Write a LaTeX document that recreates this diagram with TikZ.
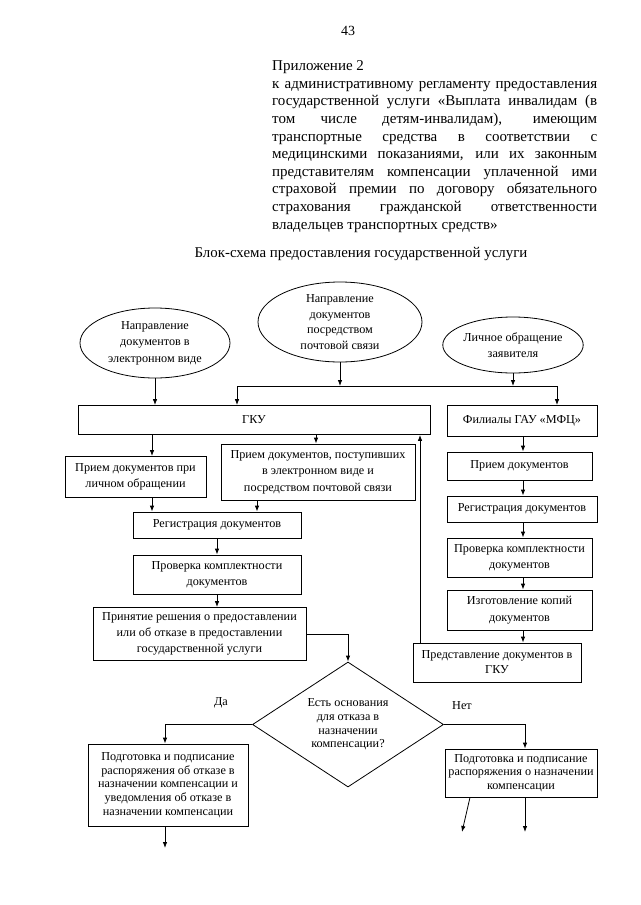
\documentclass[tikz,border=0pt]{standalone}
\usepackage{fontspec}
\setmainfont{Liberation Serif}
\usetikzlibrary{shapes.geometric,arrows.meta}
\tikzset{
  ln/.style={line width=0.8pt},
  arr/.style={ln,-{Latex[length=6pt,width=4.5pt]}},
  dfont/.style={font=\fontsize{12.2}{16.3}\selectfont},
  tfont/.style={font=\fontsize{12.2}{13.6}\selectfont},
  box/.style={draw,ln,rectangle,align=center,inner sep=1pt,dfont},
  ell/.style={draw,ln,ellipse,align=center,inner sep=0pt,dfont},
  dia/.style={draw,ln,diamond,aspect=1.5,align=center,inner sep=0pt,tfont},
  lbl/.style={inner sep=0pt,dfont}
}
\begin{document}
\begin{tikzpicture}[x=1pt,y=-1pt]
\useasboundingbox (0,0) rectangle (640,905);
% header
\node[inner sep=0pt,font=\fontsize{14}{16}\selectfont] (pnum) at (348,31) {43};
\node[anchor=north west,inner sep=0pt,align=left,font=\fontsize{15}{17.6}\selectfont] (hdr) at (272,60.5) {%
Приложение 2\\
\makebox[325pt][s]{к административному регламенту предоставления}\\
\makebox[325pt][s]{государственной услуги «Выплата инвалидам (в}\\
\makebox[325pt][s]{том числе детям-инвалидам), имеющим}\\
\makebox[325pt][s]{транспортные средства в соответствии с}\\
\makebox[325pt][s]{медицинскими показаниями, или их законным}\\
\makebox[325pt][s]{представителям компенсации уплаченной ими}\\
\makebox[325pt][s]{страховой премии по договору обязательного}\\
\makebox[325pt][s]{страхования гражданской ответственности}\\
владельцев транспортных средств»};
\node[inner sep=0pt,font=\fontsize{14.9}{16}\selectfont] (title) at (361,254) {Блок-схема предоставления государственной услуги};
% ellipses
\node[ell,minimum width=150,minimum height=70] (e1) at (155,343) {Направление\\документов в\\электронном виде};
\node[ell,minimum width=164,minimum height=80,font=\fontsize{12.2}{15.7}\selectfont] (e2) at (340,322) {Направление\\документов\\посредством\\почтовой связи};
\node[ell,minimum width=128,minimum height=56] (e3) at (513,345) {Личное обращение\\заявителя};
% left column
\node[box,minimum width=352,minimum height=29] (gku) at (254,420) {ГКУ};
\node[box,minimum width=141,minimum height=41] (pa) at (135.5,477) {Прием документов при\\личном обращении};
\node[box,minimum width=194,minimum height=56] (pb) at (318,472) {Прием документов, поступивших\\в электронном виде и\\посредством почтовой связи};
\node[box,minimum width=168,minimum height=26] (reg) at (217,525) {Регистрация документов};
\node[box,minimum width=168,minimum height=39] (prov) at (217,574.5) {Проверка комплектности\\документов};
\node[box,minimum width=213,minimum height=53] (prin) at (199.5,634) {Принятие решения о предоставлении\\или об отказе в предоставлении\\государственной услуги};
% right column
\node[box,minimum width=150,minimum height=31] (fil) at (522,421) {Филиалы ГАУ «МФЦ»};
\node[box,minimum width=145,minimum height=28] (m1) at (519.5,466) {Прием документов};
\node[box,minimum width=150,minimum height=26] (m2) at (522,509) {Регистрация документов};
\node[box,minimum width=145,minimum height=39] (m3) at (519.5,557.5) {Проверка комплектности\\документов};
\node[box,minimum width=145,minimum height=40] (m4) at (519.5,610) {Изготовление копий\\документов};
\node[box,minimum width=168,minimum height=39,font=\fontsize{12.2}{15}\selectfont] (m5) at (497,662.5) {Представление документов в\\ГКУ};
% decision
\node[dia,minimum width=191,minimum height=125] (q) at (348,724.5) {Есть основания\\для отказа в\\назначении\\компенсации?};
\node[lbl] (da) at (221,703) {Да};
\node[lbl] (net) at (462,706) {Нет};
\node[box,tfont,minimum width=160,minimum height=82] (lb) at (168,785) {Подготовка и подписание\\распоряжения об отказе в\\назначении компенсации и\\уведомления об отказе в\\назначении компенсации};
\node[box,tfont,minimum width=152,minimum height=48] (rb) at (521,773) {Подготовка и подписание\\распоряжения о назначении\\компенсации};
% helper coordinates
\coordinate (jl) at (237,386);
\coordinate (jr) at (557,386);
\coordinate (x152) at (152,0);
\coordinate (x316) at (316,0);
\coordinate (x257) at (257,0);
\coordinate (x523) at (523,0);
\coordinate (x420) at (420,0);
\coordinate (x348) at (348,0);
\coordinate (x165) at (165,0);
\coordinate (x525) at (525,0);
\coordinate (x470) at (470,0);
\coordinate (ld) at (165,848);
\coordinate (rd1) at (462,832);
\coordinate (rd2) at (525,832);
% connectors
\draw[arr] (e1.south) -- (e1.south |- gku.north);
\draw[arr] (e2.south) -- (e2.south |- jl);
\draw[arr] (e3.south) -- (e3.south |- jl);
\draw[ln] (jl) -- (jr);
\draw[arr] (jl) -- (jl |- gku.north);
\draw[arr] (jr) -- (jr |- fil.north);
\draw[arr] (gku.south -| x152) -- (pa.north -| x152);
\draw[arr] (gku.south -| x316) -- (pb.north -| x316);
\draw[arr] (pa.south -| x152) -- (reg.north -| x152);
\draw[arr] (pb.south -| x257) -- (reg.north -| x257);
\draw[arr] (reg.south) -- (prov.north -| reg.south);
\draw[arr] (prov.south) -- (prin.north -| prov.south);
\draw[arr] (prin.east) -- (prin.east -| x348) -- (q.north);
\draw[arr] (fil.south -| x523) -- (m1.north -| x523);
\draw[arr] (m1.south -| x523) -- (m2.north -| x523);
\draw[arr] (m2.south -| x523) -- (m3.north -| x523);
\draw[arr] (m3.south -| x523) -- (m4.north -| x523);
\draw[arr] (m4.south -| x523) -- (m5.north -| x523);
\draw[arr] (m5.north -| x420) -- (gku.south -| x420);
\draw[arr] (q.west) -- (q.west -| x165) -- (lb.north -| x165);
\draw[arr] (q.east) -- (q.east -| x525) -- (rb.north -| x525);
\draw[arr] (lb.south -| x165) -- (ld);
\draw[arr] (rb.south -| x470) -- (rd1);
\draw[arr] (rb.south -| x525) -- (rd2);
\end{tikzpicture}
\end{document}
